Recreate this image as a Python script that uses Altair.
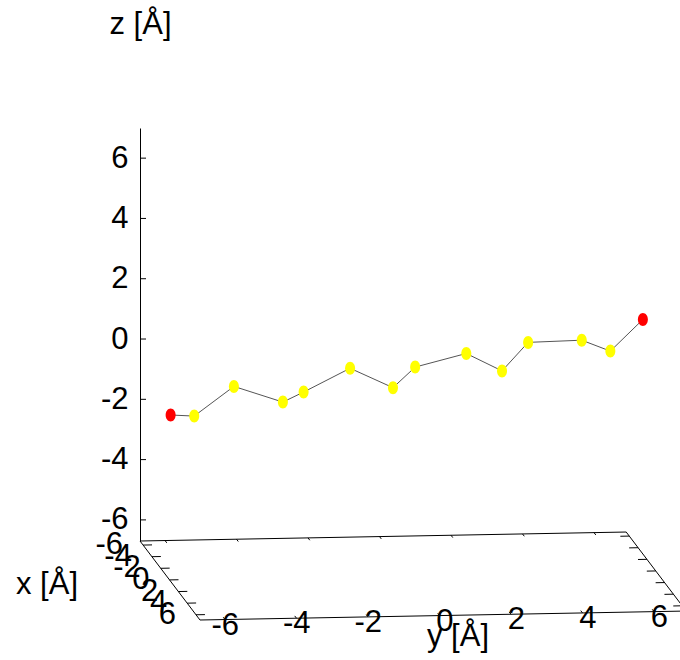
import altair as alt
import pandas as pd

# ---- data (3D coordinates, in Å) ----
atom_x = [0.0] * 14
atom_y = [-6.67, -6.01, -4.90, -3.53, -2.95, -1.65, -0.45, 0.17, 1.60, 2.60, 3.33, 4.83, 5.63, 6.54]
atom_z = [-1.23, -1.28, -0.32, -0.87, -0.55, 0.21, -0.46, 0.21, 0.63, 0.03, 0.96, 1.00, 0.62, 1.65]
atom_kind = ["end"] + ["mid"] * 12 + ["end"]

tick_values = [-6, -4, -2, 0, 2, 4, 6]
tick_labels = ["-6", "-4", "-2", "0", "2", "4", "6"]

# axis ranges
XMIN, XMAX = -6.7, 6.9
YMIN, YMAX = -6.7, 6.9
ZMIN, ZMAX = -6.7, 7.0

# ---- view (oblique projection) parameters ----
PX_Y = 35.75      # px per y unit (horizontal)
PX_Z = 30.15      # px per z unit (vertical)
X_DX, X_DY = 4.41, 5.81   # px per x unit (right, down)
Y_DY = 0.66       # px per y unit (up)
W, H = 540, 413


def proj(x, y, z):
    h = y + (x - XMIN) * X_DX / PX_Y
    v = z - (x - XMIN) * X_DY / PX_Z + (y - YMIN) * Y_DY / PX_Z
    return h, v


def seg(p, q):
    h1, v1 = proj(*p)
    h2, v2 = proj(*q)
    return {"h1": h1, "v1": v1, "h2": h2, "v2": v2}


# atoms
rows = []
for i, (x, y, z, k) in enumerate(zip(atom_x, atom_y, atom_z, atom_kind)):
    h, v = proj(x, y, z)
    rows.append({"i": i, "h": h, "v": v, "kind": k})
atoms = pd.DataFrame(rows)

# floor box
corners = [(XMIN, YMIN), (XMAX, YMIN), (XMAX, YMAX), (XMIN, YMAX)]
box = pd.DataFrame([seg((corners[j][0], corners[j][1], ZMIN),
                        (corners[(j + 1) % 4][0], corners[(j + 1) % 4][1], ZMIN)) for j in range(4)])

# tick marks
tick_rows = []
XT = 0.25   # tick length for x ticks (in y units)
YT = 0.4    # tick length for y ticks (in x units)
for t in tick_values:
    tick_rows.append(seg((t, YMIN, ZMIN), (t, YMIN + XT, ZMIN)))
    tick_rows.append(seg((t, YMAX, ZMIN), (t, YMAX - XT, ZMIN)))
    tick_rows.append(seg((XMIN, t, ZMIN), (XMIN + YT, t, ZMIN)))
    tick_rows.append(seg((XMAX, t, ZMIN), (XMAX - YT, t, ZMIN)))
    # z ticks
    h, v = proj(XMIN, YMIN, t)
    tick_rows.append({"h1": h, "v1": v, "h2": h + 6 / PX_Y, "v2": v})
ticks = pd.DataFrame(tick_rows)

xlab = pd.DataFrame([dict(zip(("h", "v"), proj(t, YMIN, ZMIN)), label=l) for t, l in zip(tick_values, tick_labels)])
ylab = pd.DataFrame([dict(zip(("h", "v"), proj(XMAX, t, ZMIN)), label=l) for t, l in zip(tick_values, tick_labels)])

FONT = "Liberation Sans"
FS = 31

xscale = alt.Scale(domain=[YMIN, YMIN + W / PX_Y], nice=False, zero=False)
yscale = alt.Scale(domain=[ZMIN, ZMAX], nice=False, zero=False)
yaxis = alt.Axis(values=tick_values, labelFontSize=FS, labelFont=FONT, labelColor="black",
                 labelExpr="toString(datum.value)",
                 ticks=False, tickSize=0, labelPadding=12, domainColor="black", domainWidth=1,
                 grid=False, title="z [Å]", titleFont=FONT, titleFontSize=FS, titleFontWeight="normal",
                 titleColor="black", titleAngle=0, titleX=0, titleY=-104, titleAlign="center",
                 titleBaseline="middle")


def X(f):
    return alt.X(f, type="quantitative", scale=xscale, axis=None)


def Y(f):
    return alt.Y(f, type="quantitative", scale=yscale, axis=yaxis)


base_rule = alt.Chart(box).mark_rule(color="black", strokeWidth=1).encode(
    x=X("h1"), y=Y("v1"), x2="h2", y2="v2")
tick_rule = alt.Chart(ticks).mark_rule(color="black", strokeWidth=1).encode(
    x=X("h1"), y=Y("v1"), x2="h2", y2="v2")

xtext = alt.Chart(xlab).mark_text(font=FONT, fontSize=FS, align="right", baseline="middle",
                                  dx=-20, color="black").encode(x=X("h"), y=Y("v"), text="label")
ytext = alt.Chart(ylab).mark_text(font=FONT, fontSize=FS, align="right", baseline="middle",
                                  dx=14, dy=6, color="black").encode(x=X("h"), y=Y("v"), text="label")

titles = pd.DataFrame({"t": ["x [Å]", "y [Å]"], "px": [-93, 318], "py": [457, 509]})
title_text = alt.Chart(titles).mark_text(font=FONT, fontSize=FS, align="center", baseline="middle",
                                         color="black").encode(
    x=alt.X("px:Q", scale=None, axis=None), y=alt.Y("py:Q", scale=None, axis=None), text="t")

chain = alt.Chart(atoms).mark_line(color="#555555", strokeWidth=1).encode(
    x=X("h"), y=Y("v"), order="i:Q")

ellipse = "M -0.77 0 A 0.77 1 0 1 0 0.77 0 A 0.77 1 0 1 0 -0.77 0 Z"
points = alt.Chart(atoms).mark_point(shape=ellipse, filled=True, size=169, opacity=1,
                                     strokeWidth=0).encode(
    x=X("h"), y=Y("v"),
    color=alt.Color("kind:N", scale=alt.Scale(domain=["end", "mid"], range=["#ff0000", "#ffff00"]),
                    legend=None))

chart = alt.layer(base_rule, tick_rule, xtext, ytext, title_text, chain, points).properties(
    width=W, height=H,
    padding={"left": 140, "top": 128, "right": 0, "bottom": 119},
    autosize=alt.AutoSizeParams(type="none"),
    background="white",
).configure_view(stroke=None)

chart.save("out.html", embed_options={"renderer": "svg", "actions": False})
